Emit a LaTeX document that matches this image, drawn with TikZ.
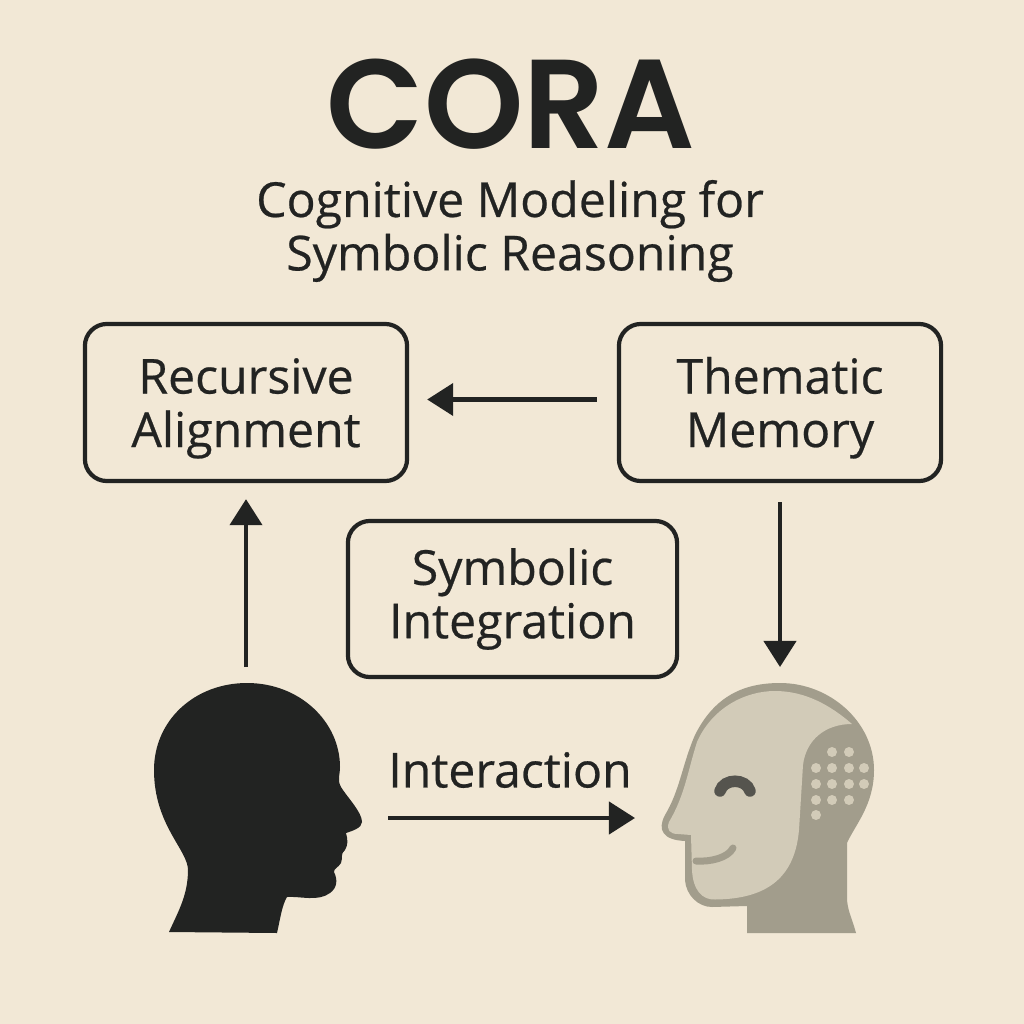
\documentclass[tikz,border=0pt]{standalone}
\usepackage{fontspec}
\setmainfont{Open Sans}[FakeBold=0.5]
\newfontfamily\titlefont{Poppins SemiBold}
\usetikzlibrary{arrows.meta}
\definecolor{paper}{HTML}{F2E8D6}
\definecolor{ink}{HTML}{222322}
\definecolor{robotdark}{HTML}{A29D8C}
\definecolor{robotface}{HTML}{D2CBB8}
\definecolor{roboteye}{HTML}{55544E}
\newcommand{\lift}{\rule{0pt}{13.4pt}}
\begin{document}
\begin{tikzpicture}[
    x=0.01cm, y=-0.01cm,
    box/.style={draw=ink, line width=0.042cm, rounded corners=0.22cm, inner sep=0pt, text=ink, align=center, font=\fontsize{13.7}{15.2}\selectfont},
    flow/.style={-{Triangle[length=0.26cm, width=0.32cm]}, draw=ink, line width=0.042cm},
    label/.style={text=ink, align=center, inner sep=0pt},
    dot/.style={fill=robotface}
]

    \fill[paper] (0,0) rectangle (1024,1024);

    % Titulos
    \node[label, font=\fontsize{36}{38}\titlefont] (title) at (511,104) {CORA};
    \node[label, font=\fontsize{13.7}{15.2}\selectfont] (subtitle) at (510,231) {Cognitive Modeling for\\Symbolic Reasoning};

    % Caixas
    \node[box, minimum width=3.22cm, minimum height=1.57cm] (recursive) at (246,402.5) {\lift Recursive\\Alignment};
    \node[box, minimum width=3.22cm, minimum height=1.57cm] (thematic) at (780,402.5) {\lift Thematic\\Memory};
    \node[box, minimum width=3.29cm, minimum height=1.56cm] (symbolic) at (512.5,599) {Symbolic\\Integration};
    \node[label, font=\fontsize{13.7}{15}\selectfont] (interaction) at (510,770) {Interaction};

    % Pessoa
    \fill[ink] (169,932) .. controls (178,912) and (188,895) .. (188,870)
        .. controls (188,850) and (154,825) .. (154,770)
        .. controls (154,720) and (195,683) .. (247,683)
        .. controls (300,683) and (340,722) .. (340,767)
        .. controls (340,775) and (337,780) .. (341,787)
        .. controls (347,797) and (362,812) .. (362,822)
        .. controls (362,828) and (352,831) .. (346,833)
        .. controls (348,840) and (348,845) .. (345,850)
        .. controls (340,854) and (343,858) .. (341,863)
        .. controls (338,868) and (334,868) .. (334,872)
        .. controls (338,880) and (337,888) .. (330,893)
        .. controls (318,902) and (300,896) .. (287,897)
        .. controls (282,905) and (280,920) .. (277,933) -- cycle;

    % Robo
    \fill[robotdark] (747,906) -- (747,933) -- (856,933)
        .. controls (852,918) and (847,910) .. (847,897) -- (847,843)
        .. controls (855,825) and (874,805) .. (874,770)
        .. controls (874,722) and (830,683) .. (780,683)
        .. controls (745,683) and (715,695) .. (695,735)
        .. controls (682,765) and (680,790) .. (665,815)
        .. controls (657,830) and (663,840) .. (685,841)
        -- (685,880)
        .. controls (686,895) and (698,907) .. (712,907) -- cycle;
    \fill[robotface] (852,724)
        .. controls (830,705) and (805,691) .. (775,691)
        .. controls (745,691) and (712,708) .. (697,742)
        .. controls (688,770) and (685,795) .. (669,822)
        .. controls (666,830) and (670,834) .. (678,834)
        -- (691,835) -- (692,870)
        .. controls (693,890) and (702,900) .. (715,899.5)
        .. controls (770,899) and (795,875) .. (799,830)
        -- (803,765)
        .. controls (806,740) and (825,724) .. (852,724) -- cycle;
    \draw[roboteye, line width=0.115cm, line cap=round] (720,791) .. controls (724,778) and (746,778) .. (750,791);
    \draw[robotdark, line width=0.07cm, line cap=round] (696,861) .. controls (710,862) and (728,858) .. (733,848);
    \foreach \x/\y in {832/752, 849/752,
        816/768, 832/768, 849/768, 864/768,
        816/784, 832/784, 849/784, 864/784,
        816/800, 832/800, 849/800,
        816/815}
        \fill[dot] (\x,\y) circle[radius=5];

    % Pontas livres das setas
    \coordinate (humantop) at (246,667);
    \coordinate (robottop) at (780,667);
    \coordinate (humanfront) at (388,818);
    \coordinate (robotfront) at (635,818);

    % Setas
    \draw[flow, shorten <=0.2cm, shorten >=0.18cm] ([yshift=0.03cm]thematic.west) -- ([yshift=0.03cm]recursive.east);
    \draw[flow, shorten >=0.16cm] (humantop) -- (recursive);
    \draw[flow, shorten <=0.19cm] (thematic) -- (robottop);
    \draw[flow] (humanfront) -- (robotfront);

\end{tikzpicture}
\end{document}
